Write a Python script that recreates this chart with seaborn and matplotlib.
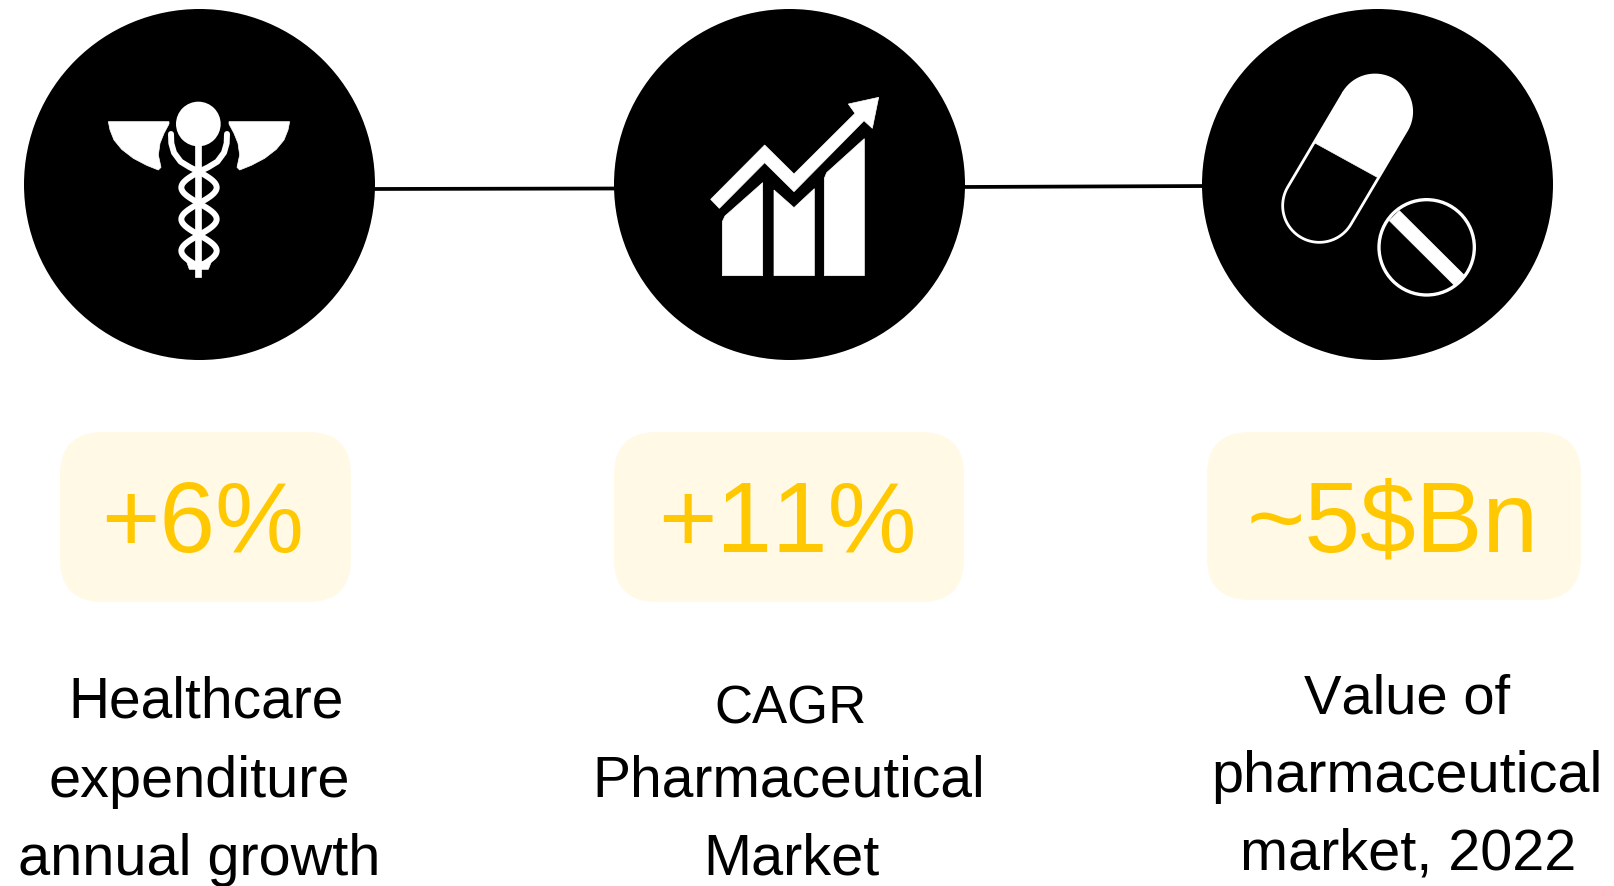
import matplotlib
matplotlib.use("Agg")
import matplotlib.pyplot as plt
import numpy as np
import pandas as pd
import seaborn as sns
from matplotlib.patches import Circle, FancyBboxPatch, Polygon

# chart content
values = ["+6%", "+11%", "~5$Bn"]
label_lines = [
    ["Healthcare", "expenditure", "annual growth"],
    ["CAGR", "Pharmaceutical", "Market"],
    ["Value of", "pharmaceutical", "market, 2022"],
]

YELLOW = "#FFC800"
PALE = "#FFF9E6"

sns.set_theme(style="white")
plt.rcParams["font.family"] = ["Liberation Sans", "DejaVu Sans"]
plt.rcParams["text.kerning_factor"] = 6  # the original text is set almost without kerning

fig, ax = plt.subplots(figsize=(16.15, 8.87), dpi=100)
fig.subplots_adjust(0, 0, 1, 1)
ax.set_xlim(0, 1615)
ax.set_ylim(887, 0)
ax.axis("off")

# connectors and the three black discs
centers = pd.DataFrame({"x": [198.7, 788.7, 1377.5], "y": [184.7, 184.7, 184.7]})
sns.lineplot(x=[364, 620], y=[190, 189.5], color="black", linewidth=2.7, ax=ax, zorder=1)
sns.lineplot(x=[958, 1210], y=[188, 187], color="black", linewidth=2.7, ax=ax, zorder=1)
sns.scatterplot(data=centers, x="x", y="y", s=(351 * 0.72) ** 2, color="black",
                linewidth=0, ax=ax, zorder=2, legend=False)


def zc(pts, ox, oy):
    return [(px / 3 + ox, py / 3 + oy) for px, py in pts]


def white_poly(pts, ox, oy):
    ax.add_patch(Polygon(zc(pts, ox, oy), closed=True, fc="white", ec="white", lw=0.5, zorder=3))


def white_line(pts, ox, oy, lw):
    p = np.array(zc(pts, ox, oy))
    ax.plot(p[:, 0], p[:, 1], color="white", lw=lw, solid_capstyle="round", solid_joinstyle="round", zorder=3)


# caduceus
ox, oy = 90, 81
ax.add_patch(Circle((ox + 325 / 3, oy + 132 / 3), 67 / 3, fc="white", ec="none", zorder=3))
white_poly([(314, 190), (332, 190), (332, 590), (314, 590)], ox, oy)
wing_l = [(55, 125), (237, 125), (237, 132), (222, 160), (210, 190), (205, 225), (213, 262), (205, 270),
          (170, 256), (130, 235), (95, 208), (72, 180), (60, 150)]
white_poly(wing_l, ox, oy)
white_poly([(654 - wx, wy) for wx, wy in wing_l], ox, oy)
yy = np.linspace(275, 552, 80)
arm = [(243, 162), (244, 190), (252, 218), (272, 245), (300, 262), (327, 275)]
for sign in (-1, 1):
    white_line([(327 + sign * 53 * np.sin(np.pi * (v - 275) / 95), v) for v in yy], ox, oy, 4.3)
    white_line([(327 + sign * (327 - ax_), ay) for ax_, ay in arm], ox, oy, 4.3)
white_poly([(290, 545), (364, 545), (355, 568), (298, 568)], ox, oy)

# growth chart
ox, oy = 690, 81
white_poly([(97, 587), (97, 425), (105, 408), (218, 308), (218, 587)], ox, oy)
white_poly([(252, 587), (252, 330), (312, 383), (373, 326), (373, 587)], ox, oy)
white_poly([(403, 587), (403, 295), (410, 278), (523, 176), (523, 587)], ox, oy)
white_poly([(62, 358), (224, 195), (312, 282), (495, 100), (475, 72), (566, 52), (547, 145), (522, 122),
            (312, 335), (224, 248), (88, 385)], ox, oy)

# capsule and tablet
ox, oy = 1260, 61
top = np.array([345, 155])
bot = np.array([178, 437])
r = 110
ang = np.arctan2(bot[1] - top[1], bot[0] - top[0])
t1 = np.linspace(ang + np.pi / 2, ang + 3 * np.pi / 2, 50)
t2 = np.linspace(ang - np.pi / 2, ang + np.pi / 2, 50)
arc_top = [tuple(top + r * np.array([np.cos(a), np.sin(a)])) for a in t1]
arc_bot = [tuple(bot + r * np.array([np.cos(a), np.sin(a)])) for a in t2]
white_line(arc_top + arc_bot + arc_top[:1], ox, oy, 2.0)
white_poly(arc_top + [(352, 352), (163, 248)], ox, oy)
ax.add_patch(Circle((ox + 500 / 3, oy + 562 / 3), 143 / 3, fc="none", ec="white", lw=2.4, zorder=3))
white_poly([(418, 452), (612, 645), (582, 675), (388, 482)], ox, oy)

# value boxes
boxes = [(60, 433, 291, 170), (614, 433, 350, 170), (1207, 433, 374, 168)]
for (bx, by, bw, bh), val, vx in zip(boxes, values, [203, 787, 1393]):
    ax.add_patch(FancyBboxPatch((bx + 43, by + 43), bw - 86, bh - 86, boxstyle="round,pad=43,rounding_size=43",
                                fc=PALE, ec="none", zorder=1))
    ax.text(vx, 526, val.replace("$", r"\$"), color=YELLOW, fontsize=72, ha="center", va="center", zorder=3)

# captions, every line sits a little differently in the original
line_x = [[206, 199, 199], [791, 788.5, 791], [1407, 1407, 1408]]
line_y = [[703, 782, 860], [710, 782, 860], [700, 777, 855]]
line_size = [[41, 41.5, 41.5], [38, 41, 41.5], [40.5, 41.5, 41.5]]
for lines, xs, ys, sizes in zip(label_lines, line_x, line_y, line_size):
    for txt, lx, ly, fs in zip(lines, xs, ys, sizes):
        ax.text(lx, ly, txt, color="black", fontsize=fs, ha="center", va="center", zorder=3)

fig.savefig("out.png", dpi=100, facecolor="white")
